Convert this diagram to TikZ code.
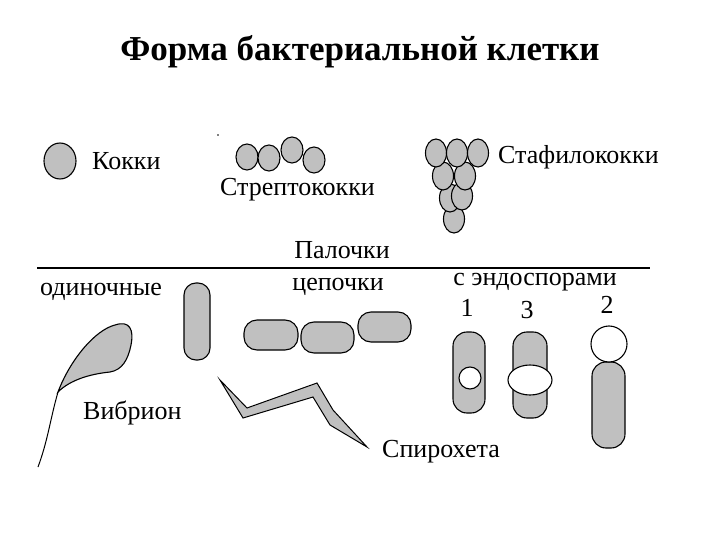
\documentclass[tikz,border=0pt]{standalone}
\usepackage{fontspec}
\setmainfont{Liberation Serif}
\begin{document}
\begin{tikzpicture}[x=1pt,y=-1pt,
 cell/.style={draw=black,fill=cellgray,line width=1.1pt},
 spore/.style={draw=black,fill=white,line width=1.1pt},
 lbl/.style={font=\fontsize{26}{28}\selectfont,inner sep=0pt}]
\definecolor{cellgray}{HTML}{C0C0C0}
\useasboundingbox (0,0) rectangle (720,540);
\node[font=\fontsize{35}{38}\selectfont\bfseries] (title) at (360,52) {Форма бактериальной клетки};
% cocci
\draw[cell] (60,161) ellipse (16 and 18);
\node[lbl,anchor=west] (kokki) at (92,161) {Кокки};
\foreach \x/\y in {247/157,269/158,292/150,314/160} \draw[cell] (\x,\y) ellipse (11 and 13);
\fill (218,135) circle (0.8);
\node[lbl,anchor=west] (strep) at (220,190) {Стрептококки};
\foreach \x/\y in {454/219,450/198,462/196,443/176,465/176,436/153,457/153,478/153} \draw[cell] (\x,\y) ellipse (10.5 and 14);
\node[lbl,anchor=west] (staph) at (498,157) {Стафилококки};
% rods
\node[lbl] (pal) at (342,250) {Палочки};
\draw[line width=1.2pt] (37,268) -- (650,268);
\node[lbl,anchor=west] (odin) at (40,292) {одиночные};
\draw[cell,rounded corners=12pt] (184,283) rectangle (210,360);
\node[lbl] (cep) at (338,287) {цепочки};
\draw[cell,rounded corners=13pt] (244,320) rectangle (298,350);
\draw[cell,rounded corners=13pt] (301,322) rectangle (354,353);
\draw[cell,rounded corners=13pt] (358,312) rectangle (411,342);
\node[lbl] (endo) at (535,282) {с эндоспорами};
\node[lbl] (n1) at (467,308) {1};
\node[lbl] (n3) at (527,310) {3};
\node[lbl] (n2) at (607,305) {2};
\draw[cell,rounded corners=14pt] (453,332) rectangle (485,413);
\draw[spore] (470,378) circle (11);
\draw[cell,rounded corners=14pt] (513,332) rectangle (547,418);
\draw[spore] (530,380) ellipse (22 and 15);
\draw[cell,rounded corners=14pt] (592,362) rectangle (625,448);
\draw[spore] (609,344) circle (18);
% vibrion
\draw[cell] (58,392) .. controls (70,360) and (95,330) .. (115,325)
  .. controls (130,320) and (134,330) .. (131,345)
  .. controls (128,360) and (122,370) .. (110,372)
  .. controls (90,374) and (70,380) .. (58,392) -- cycle;
\draw[line width=1pt] (58,392) .. controls (50,420) and (48,440) .. (38,467);
\node[lbl,anchor=west] (vib) at (83,413) {Вибрион};
% spirochete
\draw[cell,line width=1pt] (220,380) -- (247,408) -- (317,383) -- (333,410) -- (367,447) -- (330,425) -- (313,397) -- (243,418) -- cycle;
\node[lbl,anchor=west] (spir) at (382,452) {Спирохета};
\end{tikzpicture}
\end{document}
